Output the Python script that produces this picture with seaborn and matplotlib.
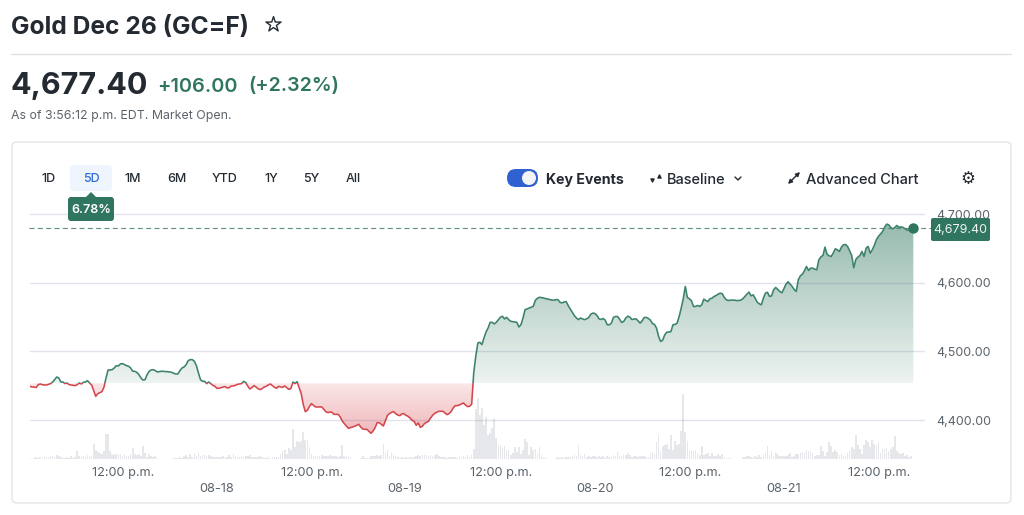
import numpy as np
import pandas as pd
import seaborn as sns
import matplotlib.pyplot as plt
from matplotlib.patches import FancyBboxPatch, Rectangle, Polygon, Circle
from matplotlib.path import Path
from matplotlib.ticker import FuncFormatter
from matplotlib.colors import LinearSegmentedColormap

# closing prices, 15 min bars (start hour -> values)
price_a_start = 0
price_a = [4449.1, 4448.1, 4448.1, 4447.2, 4451.5, 4452.5, 4451.5, 4451, 4451, 4452, 4453, 4455.4, 4458.8, 4462.7, 4461.3,
           4455.4, 4455.4, 4453, 4454, 4451.5, 4451, 4450.6, 4450.1, 4451.5, 4454, 4452.5, 4455, 4455.4, 4457.4, 4454,
           4451, 4442.8, 4434.5, 4438.4, 4439.9, 4441.3, 4447.7, 4461.3, 4472.9, 4472.9, 4473.4, 4475.8, 4479.2, 4478.8,
           4481.7, 4482.2, 4480.7, 4479.2, 4478.3, 4475.8, 4471, 4471, 4469.5, 4466.1, 4461.3, 4458.3, 4458.8, 4466.1,
           4471, 4472.9, 4473.4, 4472, 4470, 4470.5, 4471, 4471, 4470.5, 4470.5, 4470, 4469.5, 4468, 4467.1, 4467.1, 4472,
           4475.8, 4477.3, 4480.7, 4486.5, 4488, 4488, 4485.6, 4479.2, 4468.6, 4458.8, 4456.4, 4456.4, 4453, 4455.4, 4453,
           4450.6]
price_b_start = 22.5
price_b = [4449.1, 4446.2, 4446.2, 4447.2, 4448.1, 4448.6, 4446.7, 4447.2, 4449.6, 4449.6, 4450.6, 4452, 4452.5, 4453,
           4456.4, 4454.5, 4449.6, 4445.2, 4447.2, 4450.1, 4448.1, 4445.7, 4444.3, 4445.7, 4448.1, 4449.1, 4451.1, 4452.5,
           4450.1, 4447.7, 4446.2, 4449.1, 4448.1, 4447.7, 4449.6, 4447.2, 4444.7, 4445.7, 4455.4, 4453, 4455.9, 4447.2,
           4438.9, 4422.9, 4412.2, 4414.1, 4419.5, 4423.8, 4421.4, 4419, 4419, 4419, 4419, 4415.6, 4412.2, 4410.7, 4411.7,
           4411.2, 4408.3, 4408.3, 4408.3, 4404.4, 4398.6, 4394.7, 4391.3, 4387.9, 4388.8, 4389.8, 4390.8, 4392.3, 4393.7,
           4389.8, 4386.9, 4386.4, 4386.4, 4383.5, 4380.6, 4384, 4388.8, 4396.1, 4396.1, 4393.7, 4391.3, 4398.6, 4406.8,
           4409.3, 4411.2, 4412.2, 4409.3, 4407.3]
price_c_start = 45
price_c = [4406.3, 4408.8, 4409.3, 4406.8, 4405.4, 4402.9, 4399.5, 4398.1, 4392.3, 4395.7, 4389.3, 4390.8, 4394.7, 4396.6,
           4398.1, 4402.9, 4406.8, 4409.7, 4411.2, 4412.7, 4412.7, 4412.7, 4410.2, 4407.8, 4409.3, 4412.2, 4417.5, 4420.9,
           4420.9, 4421.9, 4423.4, 4424.8, 4421.9, 4419.5, 4420, 4422.9, 4468.6, 4492.9, 4512.3, 4513.3, 4509.9, 4519.6,
           4528.3, 4534.2, 4542.4, 4542.4, 4540, 4542.4, 4546.3, 4549.7, 4551.2, 4547.3, 4549.7, 4546.3, 4543.9, 4543.4,
           4542.9, 4542.4, 4535.6, 4539, 4548.7, 4560.9, 4561.9, 4563.3, 4564.3, 4565.8, 4574.5, 4577.4, 4578.9, 4578.4,
           4577.9, 4576.9, 4576.4, 4575.5, 4575, 4574.5, 4575.5, 4575.5, 4571.6, 4570.6, 4572.1, 4572.6, 4566.7, 4561.9,
           4557, 4552.1, 4548.7, 4546.3, 4548.7, 4547.3, 4546.3]
price_d_start = 67.75
price_d = [4547.5, 4549.5, 4554.3, 4555.8, 4555.3, 4552.4, 4547.5, 4546.5, 4548, 4545.6, 4538.8, 4538.8, 4541.2, 4549.5,
           4550.9, 4550.9, 4547, 4542.2, 4543.6, 4548.5, 4551.4, 4550, 4546.5, 4547, 4547.5, 4544.6, 4541.2, 4544.6, 4549.5,
           4549.5, 4548, 4545.6, 4540.7, 4539.3, 4533.9, 4521.8, 4514.5, 4516.4, 4524.2, 4528.1, 4528.1, 4529, 4538.8,
           4539.3, 4541.2, 4550.9, 4563.1, 4576.7, 4594.7, 4578.6, 4576.7, 4573.8, 4565.5, 4565.5, 4567, 4565.5, 4567.9,
           4576.2, 4574.2, 4572.8, 4576.7, 4577.6, 4580.1, 4581.5, 4583.5, 4584.9, 4584, 4578.6, 4575.2, 4574.2, 4574.7,
           4574.7, 4574.7, 4574.2, 4574.2, 4574.7, 4576.7, 4580.1, 4583.5, 4586.4, 4581, 4582.5, 4577.6, 4571.8, 4569.4,
           4567.9, 4577.6, 4584.9, 4584.9]
price_e_start = 89.75
price_e = [4587.4, 4580.1, 4581, 4589.8, 4593.2, 4590.3, 4587.4, 4585.4, 4591.3, 4598.1, 4601.5, 4598.1, 4594.7, 4590.3,
           4587.4, 4604.4, 4610.2, 4612.6, 4617.5, 4623.8, 4618, 4621.4, 4621.4, 4619.9, 4619, 4633.5, 4637.9, 4639.9, 4652,
           4641.8, 4639.4, 4638.4, 4643.3, 4649.6, 4648.1, 4645.7, 4652, 4655.4, 4655.9, 4653, 4646.7, 4639.9, 4622, 4634,
           4637.4, 4639.9, 4645.7, 4638.4, 4650.5, 4653, 4643.3, 4648.1, 4654.4, 4662.7, 4667.6, 4671, 4674.8, 4680.7,
           4685.5, 4684.6, 4680.7, 4678.7, 4680.7, 4683.6, 4680.7, 4681.6, 4680.7, 4678.7, 4676.8, 4676.3, 4677.3, 4679.4]

volume_a_start = 0
volume_a = [1, .5, 1.5, 2, 1.5, 2, 1.5, 2.5, 2, 2, 3, 3, 2, 4, 3, 2, 1, 1, 2, 1, 3, 1, 2, 8, 3, 3, 3, 2, 4, 3, 3, 15, 9, 7, 6, 5, 8,
            25, 25, 8, 5, 4, 5, 5, 5, 3, 5, 3, 3, 5, 11, 5, 4, 5, 3, 13, 6, 2, 5, 3, 2, 3, 1, .5, .5, 0, 0, 0, 0, 0, 1, 1, 1, 2,
            1, 3, 4, 2, 5, 2, 5, 3, 6, 3, 4, 4, 3, 4, 3, 2, 2, 2, 2, 2, 3, 1, 2, 4, 2, 5, 3, 2, 2, 3, 2, 3, 3, 4, 2, 2, 2, 2, 3,
            2, 1, 1, 2, 1, 2, 2, 2, 2, 5, 8, 9, 5, 11, 9, 30, 12, 18, 17, 18, 27, 19, 19, 12, 5, 3, 3, 3, 3, 4, 3]
volume_b_start = 36
volume_b = [3, 3, 4, 3, 3, 3, 2, 3, 14, 3, 3, 2, 2, .5, .5, .5, .5, 1, 3, 1, 1, 1, 3, 3, 3, 4, 3, 4, 15, 6, 9, 3, 7, 4, 3, 2, 1, 2,
            1, 2, 1, 2, 1, 2, 3, 4, 3, 4, 4, 4, 3, 4, 3, 4, 5, 3, 2, 2, 2, 1, 2, 2, 2, 2, 1, 2, 2, 3, 2, 4, 2, 4, 10, 50, 61, 44,
            51, 34, 42, 24, 26, 31, 40, 21, 14, 14, 12, 13, 9, 9, 4, 6, 12, 7, 12, 5, 9, 20, 17, 4, 12, 9, 10, 6, 12, 4, 2, 2, .5,
            .5, .5, .5, 1, 2, 1, 2, 1, 2, 2, 2, 3, 4, 3, 14, 4, 3, 5, 2, 3, 2, 3, 3, 2, 3, 2, 3, 1, 3, 2, 2, 4, 3, 7, 3, 4, 5, 5]
volume_c_start = 71.75
volume_c = [3, 2, 3, 4, 6, 4, 2, 3, 3, 2, 3, 3, 3, 2, 2, 6, 7, 5, 17, 24, 8, 13, 14, 15, 10, 24, 9, 18, 14, 15, 28, 65, 27, 18, 8, 9,
            8, 9, 6, 4, 13, 4, 5, 6, 3, 6, 3, 3, 5, 3, 5, 2, 1, 1, 1, 0, 0, 0, 0, .5, 2, 2, 3, 3, 2, 1, 3, 2, 4, 2, 4, 6, 13, 4, 8,
            3, 6, 4, 3, 3, 3, 3, 4, 6, 2, 3, 5, 5, 6, 7, 6, 9, 8, 8, 6, 3, 4, 4, 13, 8, 3, 7, 17, 13, 7, 9, 7, 4, 5, 3, 3, 6, 8, 12,
            10, 24, 14, 10, 5, 14, 19, 17, 12, 19, 15, 14, 17, 6, 10, 10, 11, 8, 10, 12, 23, 8, 6, 5, 6, 3, 4, 2, 3]

baseline = 4453.4
last_price = 4679.4
y_ticks = [4400, 4500, 4600, 4700]
noon_ticks = [11.3, 34.3, 57.3, 80.3, 103.3]
noon_labels = ['12:00 p.m.'] * 5
date_ticks = [22.7, 45.6, 68.8, 91.7]
date_labels = ['08-18', '08-19', '08-20', '08-21']
range_names = ['1D', '5D', '1M', '6M', 'YTD', '1Y', '5Y', 'All']

GREEN = '#3c826d'
DARK_GREEN = '#2f7560'
RED = '#d4474d'
INK = '#232a31'
GRAY = '#5b636a'


def frame(values, start):
    return pd.DataFrame({'hour': start + np.arange(len(values)) * 0.25, 'value': values})


prices = pd.concat([frame(price_a, price_a_start), frame(price_b, price_b_start), frame(price_c, price_c_start),
                    frame(price_d, price_d_start), frame(price_e, price_e_start)], ignore_index=True)
volumes = pd.concat([frame(volume_a, volume_a_start), frame(volume_b, volume_b_start), frame(volume_c, volume_c_start)],
                    ignore_index=True)

sns.set_theme(style='white')
plt.rcParams['font.family'] = ['Inter', 'DejaVu Sans']

W, H = 1024, 515
fig = plt.figure(figsize=(W / 100, H / 100), dpi=100)

# page furniture in pixel coordinates
ui = fig.add_axes([0, 0, 1, 1])
ui.set_xlim(0, W)
ui.set_ylim(H, 0)
ui.axis('off')
ui.add_patch(FancyBboxPatch((12, 142), 999, 361, boxstyle='round,pad=0,rounding_size=5', fc='white', ec='#e3e4e6', lw=1))
ui.plot([11, 1011], [54, 54], color='#e0e1e3', lw=1)

ui.text(11, 27.5, 'Gold Dec 26 (GC=F)', fontsize=17.7, fontweight='bold', color=INK, va='center')
ui.scatter([273], [24], marker='*', s=130, fc='white', ec=INK, lw=1)
ui.text(11, 86.5, '4,677.40', fontsize=22, fontweight='bold', color=INK, va='center')
ui.text(157, 86.5, '+106.00', fontsize=14.4, fontweight='semibold', color=DARK_GREEN, va='center')
ui.text(248, 86.5, '(+2.32%)', fontsize=14.2, fontweight='semibold', color=DARK_GREEN, va='center')
ui.text(11, 116, 'As of 3:56:12 p.m. EDT. Market Open.', fontsize=8.9, color=GRAY, va='center')

ui.add_patch(FancyBboxPatch((70, 165), 42, 26, boxstyle='round,pad=0,rounding_size=4', fc='#eef5fd', ec='none'))
for name, cx in zip(range_names, [49, 91, 133, 177, 225, 271, 311, 353]):
    ui.text(cx, 179, name, fontsize=9, fontweight='medium', ha='center', va='center',
            color='#2f6bd6' if name == '5D' else INK)

ui.add_patch(FancyBboxPatch((507, 169), 31, 18, boxstyle='round,pad=0,rounding_size=9', fc='#2f62d0', ec='none'))
ui.add_patch(Circle((529, 178), 7, fc='#f2f4f7', ec='none'))
ui.text(546, 180, 'Key Events', fontsize=10.2, fontweight='bold', color=INK, va='center')
ui.scatter([652], [180], marker='v', s=5, color=INK)
ui.scatter([659], [176], marker='^', s=5, color=INK)
ui.text(667, 179.5, 'Baseline', fontsize=10.5, fontweight='medium', color=INK, va='center')
ui.plot([735, 738, 741], [177, 180, 177], color=INK, lw=1)
ui.annotate('', xy=(800, 172), xytext=(788, 184), arrowprops=dict(arrowstyle='<|-|>', color=INK, lw=1, mutation_scale=6, shrinkA=0, shrinkB=0))
ui.text(806, 179.5, 'Advanced Chart', fontsize=10.5, fontweight='medium', color=INK, va='center')
ui.text(968, 179, '\u2699', fontsize=12, color=INK, ha='center', va='center', family='DejaVu Sans')

# chart, limits chosen so 100 points = 68.6 px and one hour = 8.217 px
left, right, top, bottom = 30, 925, 205, 459
rect = [left / W, 1 - bottom / H, (right - left) / W, (bottom - top) / H]
xlim = (0, (right - left) / 8.217)
ylim = (4400 + (420 - bottom) / 0.686, 4400 + (420 - top) / 0.686)

axv = fig.add_axes(rect)
axv.patch.set_alpha(0)
sns.barplot(data=volumes, x='hour', y='value', native_scale=True, errorbar=None, color='#e5e7ea', saturation=1,
            width=0.8, linewidth=0, ax=axv)
axv.set_xlim(xlim)
axv.set_ylim(0, bottom - top)
axv.axis('off')

ax = fig.add_axes(rect)
ax.patch.set_alpha(0)
ax.grid(axis='y', color='#4a5a80', alpha=0.16, lw=1)
ax.set_axisbelow(False)

t = prices['hour'].to_numpy()
p = prices['value'].to_numpy()

green_cmap = LinearSegmentedColormap.from_list('g', [(0.21, 0.48, 0.39, 0.09), (0.21, 0.48, 0.39, 0.52)])
red_cmap = LinearSegmentedColormap.from_list('r', [(0.85, 0.27, 0.30, 0.38), (0.85, 0.27, 0.30, 0.13)])

poly_up = ax.fill_between(t, baseline, p, where=p >= baseline, interpolate=True, color='none')
poly_dn = ax.fill_between(t, baseline, p, where=p <= baseline, interpolate=True, color='none')
grad = np.linspace(0, 1, 256).reshape(-1, 1)
im_up = ax.imshow(grad, cmap=green_cmap, origin='lower', aspect='auto', extent=(t[0], t[-1], baseline, last_price + 10))
im_dn = ax.imshow(grad, cmap=red_cmap, origin='lower', aspect='auto', extent=(t[0], t[-1], p.min(), baseline))
im_up.set_clip_path(Path.make_compound_path(*poly_up.get_paths()), transform=ax.transData)
im_dn.set_clip_path(Path.make_compound_path(*poly_dn.get_paths()), transform=ax.transData)

# same line twice, green above the baseline and red below it
ax.set_xlim(xlim)
ax.set_ylim(ylim)
sns.lineplot(data=prices, x='hour', y='value', color=GREEN, lw=1.15, errorbar=None, ax=ax)
sns.lineplot(data=prices, x='hour', y='value', color=RED, lw=1.15, errorbar=None, ax=ax)
up_line, dn_line = ax.lines[-2], ax.lines[-1]
up_clip = Rectangle((xlim[0], baseline), xlim[1], ylim[1] - baseline, transform=ax.transData)
dn_clip = Rectangle((xlim[0], ylim[0]), xlim[1], baseline - ylim[0], transform=ax.transData)
up_line.set_clip_path(up_clip)
dn_line.set_clip_path(dn_clip)

ax.set_xlim(xlim)
ax.set_ylim(ylim)
ax.set_xlabel('')
ax.set_ylabel('')
sns.despine(ax=ax, left=True, bottom=True, right=True, top=True)
ax.yaxis.tick_right()
ax.set_yticks(y_ticks)
ax.yaxis.set_major_formatter(FuncFormatter(lambda v, _: f'{v:,.2f}'))
ax.set_xticks(noon_ticks)
ax.set_xticklabels(noon_labels)
ax.tick_params(axis='x', length=0, pad=6, labelsize=9.2, labelcolor=GRAY)
ax.tick_params(axis='y', length=0, pad=8, labelsize=9, labelcolor=GRAY)
for hour, lab in zip(date_ticks, date_labels):
    ax.annotate(lab, xy=(hour, 0), xycoords=('data', 'axes fraction'), xytext=(0, -30), textcoords='offset pixels',
                ha='center', va='center', fontsize=9.2, color=GRAY)

# last price marker, dashed line and tag
ax.plot([-0.1, 110], [last_price, last_price], color='#5d8f80', lw=0.8, dashes=(4.5, 3), clip_on=False, zorder=1.5)
ax.scatter([t[-1]], [last_price], s=42, color=DARK_GREEN, zorder=5, clip_on=False)

over = fig.add_axes([0, 0, 1, 1])
over.set_xlim(0, W)
over.set_ylim(H, 0)
over.axis('off')
over.patch.set_alpha(0)
over.add_patch(FancyBboxPatch((931, 218), 59, 23, boxstyle='round,pad=0,rounding_size=2', fc=DARK_GREEN, ec='none'))
over.text(960.5, 230, '4,679.40', fontsize=9, color='#eef4f1', ha='center', va='center')
over.add_patch(Polygon([[86, 197], [91, 192], [96, 197]], fc=DARK_GREEN, ec='none'))
over.add_patch(FancyBboxPatch((68, 197), 46, 24, boxstyle='round,pad=0,rounding_size=3', fc=DARK_GREEN, ec='none'))
over.text(91, 210, '6.78%', fontsize=9, fontweight='semibold', color='white', ha='center', va='center')

fig.savefig('out.png', dpi=100)
